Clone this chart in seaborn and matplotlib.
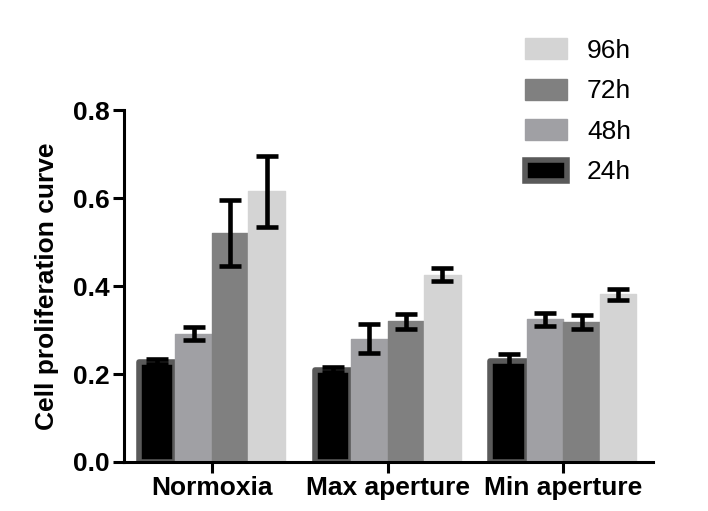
import numpy as np
import pandas as pd
import matplotlib
matplotlib.use("Agg")
import matplotlib.pyplot as plt
import seaborn as sns
from matplotlib.patches import Patch

categories = ["Normoxia", "Max aperture", "Min aperture"]
time_points = ["24h", "48h", "72h", "96h"]
means_24h = [0.228, 0.210, 0.230]
means_48h = [0.292, 0.280, 0.324]
means_72h = [0.520, 0.320, 0.318]
means_96h = [0.615, 0.426, 0.381]
err_24h = [0.006, 0.006, 0.015]
err_48h = [0.015, 0.033, 0.015]
err_72h = [0.075, 0.017, 0.015]
err_96h = [0.080, 0.015, 0.013]
yticks = [0.0, 0.2, 0.4, 0.6, 0.8]

fill_colors = {"24h": "#000000", "48h": "#a0a0a4", "72h": "#808080", "96h": "#d4d4d4"}
edge_colors = {"24h": "#5a5a5a", "48h": "#a0a0a4", "72h": "#808080", "96h": "#d4d4d4"}

means = [means_24h, means_48h, means_72h, means_96h]
errs = [err_24h, err_48h, err_72h, err_96h]
rows = []
for t, m, e in zip(time_points, means, errs):
    for c, v, ev in zip(categories, m, e):
        rows.append({"Condition": c, "Time": t, "Value": v, "Err": ev})
df = pd.DataFrame(rows)

sns.set_style("white")
plt.rcParams["font.family"] = ["Liberation Sans", "DejaVu Sans"]
plt.rcParams["text.color"] = "black"
plt.rcParams["axes.labelcolor"] = "black"
plt.rcParams["xtick.color"] = "black"
plt.rcParams["ytick.color"] = "black"

fig = plt.figure(figsize=(7.08, 5.11), dpi=100)
ax = fig.add_axes([0.1751, 0.0959, 0.9223 - 0.1751, 0.7847 - 0.0959])

sns.barplot(data=df, x="Condition", y="Value", hue="Time", order=categories,
            hue_order=time_points, palette=fill_colors, errorbar=None,
            width=0.83, gap=0, ax=ax, legend=False, zorder=2)

for cont, t, e in zip(ax.containers, time_points, errs):
    xs = []
    ys = []
    for bar in cont:
        bar.set_edgecolor(edge_colors[t])
        bar.set_linewidth(4.0 if t == "24h" else 1.0)
        bar.set_joinstyle("round")
        xs.append(bar.get_x() + bar.get_width() / 2)
        ys.append(bar.get_height())
    ax.errorbar(xs, ys, yerr=e, fmt="none", ecolor="black", elinewidth=3.3,
                capsize=8, capthick=3.3, zorder=5)

ax.set_xlim(-0.5, 2.51)
ax.set_ylim(0, 0.8)
ax.set_yticks(yticks)
ax.set_yticklabels([f"{v:.1f}" for v in yticks])
ax.set_xlabel("")
ax.set_ylabel("Cell proliferation curve", fontsize=19, fontweight="bold",
              labelpad=10, color="black")
for lab in ax.get_xticklabels() + ax.get_yticklabels():
    lab.set_fontsize(19)
    lab.set_fontweight("bold")
    lab.set_color("black")

sns.despine(ax=ax)
for s in ["left", "bottom"]:
    ax.spines[s].set_linewidth(2.2)
    ax.spines[s].set_color("black")
ax.tick_params(axis="both", which="major", length=8, width=2.2, color="black",
               direction="out", bottom=True, left=True, pad=2)

handles = [Patch(facecolor=fill_colors[t], edgecolor=edge_colors[t],
                 linewidth=4.0 if t == "24h" else 1.0, label=t)
           for t in reversed(time_points)]
leg = fig.legend(handles=handles, loc="upper left", bbox_to_anchor=(0.7415, 0.925),
                 frameon=False, fontsize=19, handlelength=1.6, handleheight=0.85,
                 handletextpad=0.75, labelspacing=0.6, borderpad=0, borderaxespad=0)
for txt in leg.get_texts():
    txt.set_color("black")

fig.savefig("out.png", dpi=100)
